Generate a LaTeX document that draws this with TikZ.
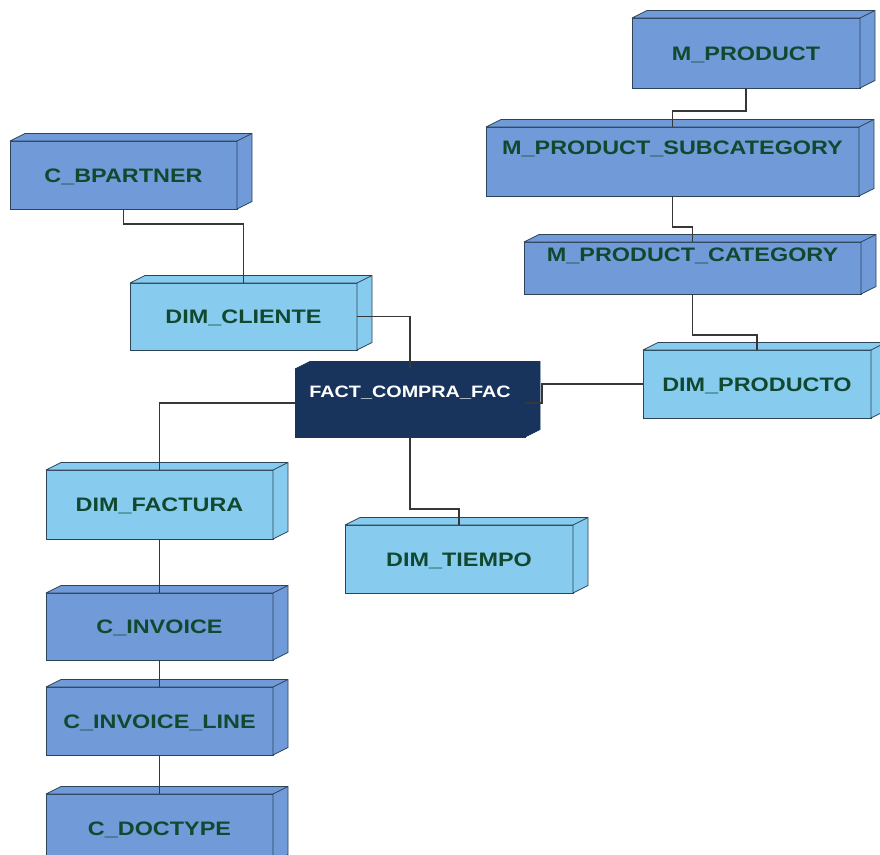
\documentclass[tikz,border=0pt]{standalone}
\usepackage{fontspec}
\setmainfont{Liberation Sans}
\usepackage{graphicx}

\definecolor{tblblue}{RGB}{112,155,216}
\definecolor{dimblue}{RGB}{135,204,238}
\definecolor{factnavy}{RGB}{24,52,92}
\definecolor{edgecol}{RGB}{45,68,88}
\definecolor{labelgreen}{RGB}{18,72,48}
\definecolor{wirecol}{RGB}{55,55,55}

% label text: widened a little, baseline placed #1 relative to the node centre
\newcommand\boxlabel[2][-7pt]{\raisebox{#1}[0pt][0pt]{\scalebox{1.2}[1]{#2}}}

% top and right faces of a 3-D box drawn on a rectangle node
\newcommand\depthfaces[3]{%
  \filldraw[fill=#2, draw=#3, line width=0.8pt, line join=round]
    (#1.north west) -- ++(15,-7.5) -- ([shift={(15,-7.5)}]#1.north east)
    -- ([shift={(15,-7.5)}]#1.south east) -- (#1.south east)
    -- (#1.north east) -- cycle;
  \draw[draw=#3, line width=0.8pt] (#1.north east) -- ++(15,-7.5);
}

\tikzset{
  tblnode/.style={draw=edgecol, fill=tblblue, line width=0.8pt, inner sep=0pt,
    outer sep=0pt, text=labelgreen, font=\bfseries\fontsize{19.5}{22}\selectfont},
  dimnode/.style={tblnode, fill=dimblue},
  factnode/.style={tblnode, fill=factnavy, draw=factnavy, text=white,
    font=\bfseries\fontsize{16.5}{20}\selectfont},
  wire/.style={draw=wirecol, line width=1.1pt}
}

\begin{document}
\begin{tikzpicture}[x=1pt, y=-1pt]
\clip (0,0) rectangle (880,854);

% source tables
\node[tblnode, minimum width=227pt, minimum height=68pt] (cbp) at (123.5,175) {\boxlabel{C\_BPARTNER}};
\depthfaces{cbp}{tblblue}{edgecol}
\node[tblnode, minimum width=228pt, minimum height=70pt] (mprod) at (746,53) {\boxlabel{M\_PRODUCT}};
\depthfaces{mprod}{tblblue}{edgecol}
\node[tblnode, minimum width=373pt, minimum height=69pt] (msub) at (672.5,161.5) {\boxlabel[6.7pt]{M\_PRODUCT\_SUBCATEGORY}};
\depthfaces{msub}{tblblue}{edgecol}
\node[tblnode, minimum width=337pt, minimum height=52pt] (mcat) at (692.5,268) {\boxlabel[6.2pt]{M\_PRODUCT\_CATEGORY}};
\depthfaces{mcat}{tblblue}{edgecol}
\node[tblnode, minimum width=227pt, minimum height=67pt] (cinv) at (159.5,626.5) {\boxlabel{C\_INVOICE}};
\depthfaces{cinv}{tblblue}{edgecol}
\node[tblnode, minimum width=227pt, minimum height=68pt] (cinvl) at (159.5,721) {\boxlabel{C\_INVOICE\_LINE}};
\depthfaces{cinvl}{tblblue}{edgecol}
\node[tblnode, minimum width=227pt, minimum height=68pt] (cdoc) at (159.5,828) {\boxlabel{C\_DOCTYPE}};
\depthfaces{cdoc}{tblblue}{edgecol}

% dimensions
\node[dimnode, minimum width=227pt, minimum height=67pt] (dcli) at (243.5,316.5) {\boxlabel{DIM\_CLIENTE}};
\depthfaces{dcli}{dimblue}{edgecol}
\node[dimnode, minimum width=228pt, minimum height=68pt] (dprod) at (757,384) {\boxlabel{DIM\_PRODUCTO}};
\depthfaces{dprod}{dimblue}{edgecol}
\node[dimnode, minimum width=227pt, minimum height=69pt] (dfac) at (159.5,504.5) {\boxlabel{DIM\_FACTURA}};
\depthfaces{dfac}{dimblue}{edgecol}
\node[dimnode, minimum width=228pt, minimum height=68pt] (dtie) at (459,559) {\boxlabel{DIM\_TIEMPO}};
\depthfaces{dtie}{dimblue}{edgecol}

% fact table
\node[factnode, minimum width=230pt, minimum height=68pt] (fact) at (410,403) {\boxlabel[5.1pt]{FACT\_COMPRA\_FAC}};
\depthfaces{fact}{factnavy}{factnavy}

% connectors
\draw[wire] (cbp.south) -- ++(0,15) -| (dcli.north);
\draw[wire] (dcli.east) -| (fact.north);
\draw[wire] (fact.west) -| (dfac.north);
\draw[wire] (dfac.south) -- (cinv.north);
\draw[wire] (cinv.south) -- (cinvl.north);
\draw[wire] (cinvl.south) -- (cdoc.north);
\draw[wire] (fact.south) -- ++(0,72) -| (dtie.north);
\draw[wire] (mprod.south) -- ++(0,23) -| (msub.north);
\draw[wire] (msub.south) -- ++(0,31) -| (mcat.north);
\draw[wire] (mcat.south) -- ++(0,41) -| (dprod.north);
\draw[wire] (dprod.west) -- ++(-101,0) |- (fact.east);
\end{tikzpicture}
\end{document}
